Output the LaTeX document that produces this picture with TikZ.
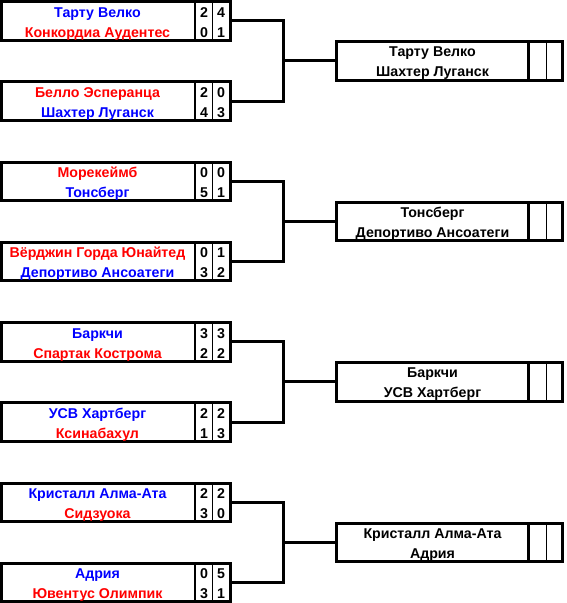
\documentclass[tikz,border=0pt]{standalone}
\usepackage{fontspec}
\setmainfont{Liberation Sans}
\definecolor{tblue}{RGB}{0,0,255}
\definecolor{tred}{RGB}{255,0,0}
\tikzset{
  boxframe/.style={draw=black, line width=3pt, rectangle, inner sep=0pt, minimum height=38.5pt},
  leftframe/.style={boxframe, minimum width=229pt},
  rightframe/.style={boxframe, minimum width=226pt},
  thickdiv/.style={line width=2.5pt},
  thindiv/.style={line width=1pt},
  link/.style={line width=3pt},
  txt/.style={font=\fontsize{14.2pt}{16pt}\selectfont\bfseries, inner sep=0pt, anchor=base},
}
% id, top, team1, s1a, s1b, team2, s2a, s2b
\newcommand\tiebox[8]{%
  \node[leftframe] (#1) at (116,{#2+20.75}) {};
  \draw[thickdiv] (195,{#2+1.5}) -- (195,{#2+40});
  \draw[thindiv] (212.5,{#2+1.5}) -- (212.5,{#2+40});
  \node[txt] (#1t1) at (97.5,{#2+17}) {#3};
  \node[txt] (#1a1) at (204,{#2+17}) {#4};
  \node[txt] (#1b1) at (221,{#2+17}) {#5};
  \node[txt] (#1t2) at (97.5,{#2+37}) {#6};
  \node[txt] (#1a2) at (204,{#2+37}) {#7};
  \node[txt] (#1b2) at (221,{#2+37}) {#8};
}
% id, mid, team1, team2
\newcommand\finalbox[4]{%
  \node[rightframe] (#1) at (449.5,{#2}) {};
  \draw[thickdiv] (528.5,{#2-18.5}) -- (528.5,{#2+18.5});
  \draw[thindiv] (546.5,{#2-18.5}) -- (546.5,{#2+18.5});
  \node[txt] (#1t1) at (432.5,{#2-3.9}) {#3};
  \node[txt] (#1t2) at (432.5,{#2+16.1}) {#4};
}
\begin{document}
\begin{tikzpicture}[x=1pt,y=-1pt]
\useasboundingbox (0,0) rectangle (566,603);
\fill[white] (0,0) rectangle (566,603);

\tiebox{m1}{0}{\color{tblue}Тарту Велко}{2}{4}{\color{tred}Конкордиа Аудентес}{0}{1}
\tiebox{m2}{80.25}{\color{tred}Белло Эсперанца}{2}{0}{\color{tblue}Шахтер Луганск}{4}{3}
\tiebox{m3}{160.5}{\color{tred}Морекеймб}{0}{0}{\color{tblue}Тонсберг}{5}{1}
\tiebox{m4}{240.75}{\color{tred}Вёрджин Горда Юнайтед}{0}{1}{\color{tblue}Депортиво Ансоатеги}{3}{2}
\tiebox{m5}{321}{\color{tblue}Баркчи}{3}{3}{\color{tred}Спартак Кострома}{2}{2}
\tiebox{m6}{401.25}{\color{tblue}УСВ Хартберг}{2}{2}{\color{tred}Ксинабахул}{1}{3}
\tiebox{m7}{481.5}{\color{tblue}Кристалл Алма-Ата}{2}{2}{\color{tred}Сидзуока}{3}{0}
\tiebox{m8}{561.75}{\color{tblue}Адрия}{0}{5}{\color{tred}Ювентус Олимпик}{3}{1}

\finalbox{f1}{60.875}{Тарту Велко}{Шахтер Луганск}
\finalbox{f2}{221.375}{Тонсберг}{Депортиво Ансоатеги}
\finalbox{f3}{381.875}{Баркчи}{УСВ Хартберг}
\finalbox{f4}{542.375}{Кристалл Алма-Ата}{Адрия}

\foreach \a/\b/\f in {m1/m2/f1, m3/m4/f2, m5/m6/f3, m7/m8/f4}{
  \draw[link] (\a.east) -- (283.5,0 |- \a.east) -- (283.5,0 |- \b.east) -- (\b.east);
  \draw[link] (283.5,0 |- \f.west) -- (\f.west);
}
\end{tikzpicture}
\end{document}
